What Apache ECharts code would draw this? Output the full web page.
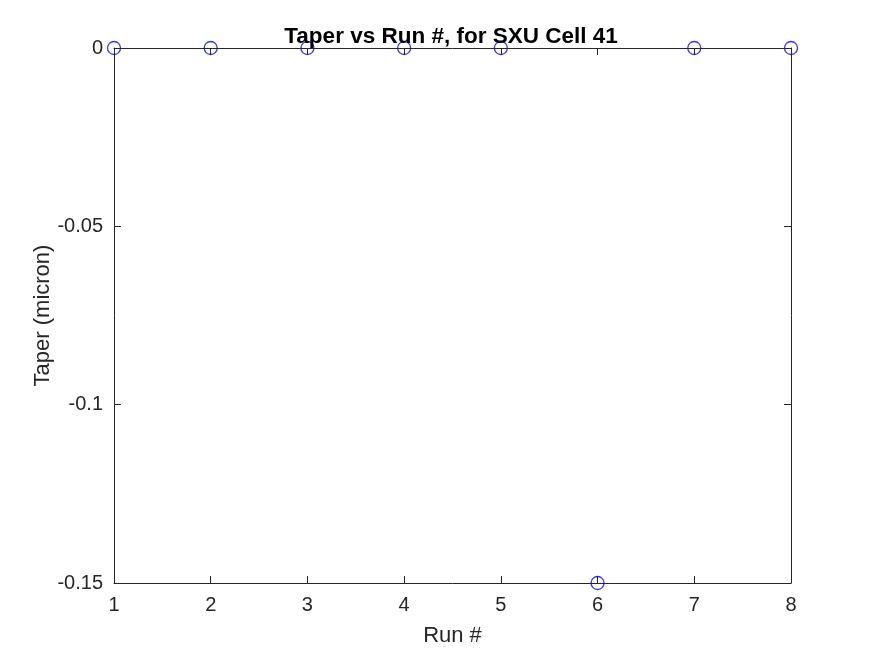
<!DOCTYPE html>
<html>
<head>
<meta charset="utf-8">
<script src="https://cdn.jsdelivr.net/npm/echarts@6/dist/echarts.min.js"></script>
<style>html,body{margin:0;padding:0;background:#fff}#c{width:875px;height:656px}</style>
</head>
<body>
<div id="c"></div>
<script>
const runs = [1, 2, 3, 4, 5, 6, 7, 8];
const taper = [0, 0, 0, 0, 0, -0.15, 0, 0];
const xTicks = [1, 2, 3, 4, 5, 6, 7, 8];
const yTickLabels = {'0': '0', '-0.05': '-0.05', '-0.1': '-0.1', '-0.15': '-0.15'};

const chart = echarts.init(document.getElementById('c'));
const axisCol = '#262626';
const font = 'Liberation Sans, Arial, Helvetica, sans-serif';
function fmtY(v){
  const r = Math.round(v*100)/100;
  const k = String(r);
  return yTickLabels[k] !== undefined ? yTickLabels[k] : k;
}
const baseAxis = {
  axisLine: {show: true, onZero: false, lineStyle: {color: axisCol, width: 1}},
  axisTick: {show: true, inside: true, length: 7, lineStyle: {color: axisCol, width: 1}},
  splitLine: {show: false},
  zlevel: 1,
  z: 10
};
chart.setOption({
  animation: false,
  backgroundColor: '#ffffff',
  title: {
    text: 'Taper vs Run #, for SXU Cell 41',
    left: 446, top: 20, textAlign: 'center',
    textStyle: {fontFamily: font, fontSize: 22.5, fontWeight: 'bold', color: '#000'}
  },
  grid: {left: 114, right: 84, top: 48, bottom: 73, containLabel: false},
  xAxis: [
    Object.assign({}, baseAxis, {
      type: 'value', min: 1, max: 8, interval: 1, position: 'bottom',
      name: 'Run #', nameLocation: 'middle', nameGap: 42, nameMoveOverlap: false,
      nameTextStyle: {fontFamily: font, fontSize: 22, color: axisCol},
      axisLabel: {fontFamily: font, fontSize: 20, color: axisCol, margin: 12,
        formatter: v => xTicks.includes(v) ? String(v) : ''}
    }),
    Object.assign({}, baseAxis, {
      type: 'value', min: 1, max: 8, interval: 1, position: 'top',
      axisLabel: {show: false}
    })
  ],
  yAxis: [
    Object.assign({}, baseAxis, {
      type: 'value', min: -0.15, max: 0, interval: 0.05, position: 'left',
      name: 'Taper (micron)', nameLocation: 'middle', nameGap: 60, nameRotate: 90, nameMoveOverlap: false,
      nameTextStyle: {fontFamily: font, fontSize: 22, color: axisCol},
      axisLabel: {fontFamily: font, fontSize: 20, color: axisCol, margin: 11, formatter: fmtY}
    }),
    Object.assign({}, baseAxis, {
      type: 'value', min: -0.15, max: 0, interval: 0.05, position: 'right',
      axisLabel: {show: false}
    })
  ],
  series: [{
    type: 'scatter',
    data: runs.map((r, i) => [r, taper[i]]),
    symbol: 'circle',
    symbolSize: 13,
    itemStyle: {color: 'rgba(0,0,0,0)', borderColor: '#0000ff', borderWidth: 1.3},
    clip: false,
    z: 1
  }]
});
</script>
</body>
</html>
